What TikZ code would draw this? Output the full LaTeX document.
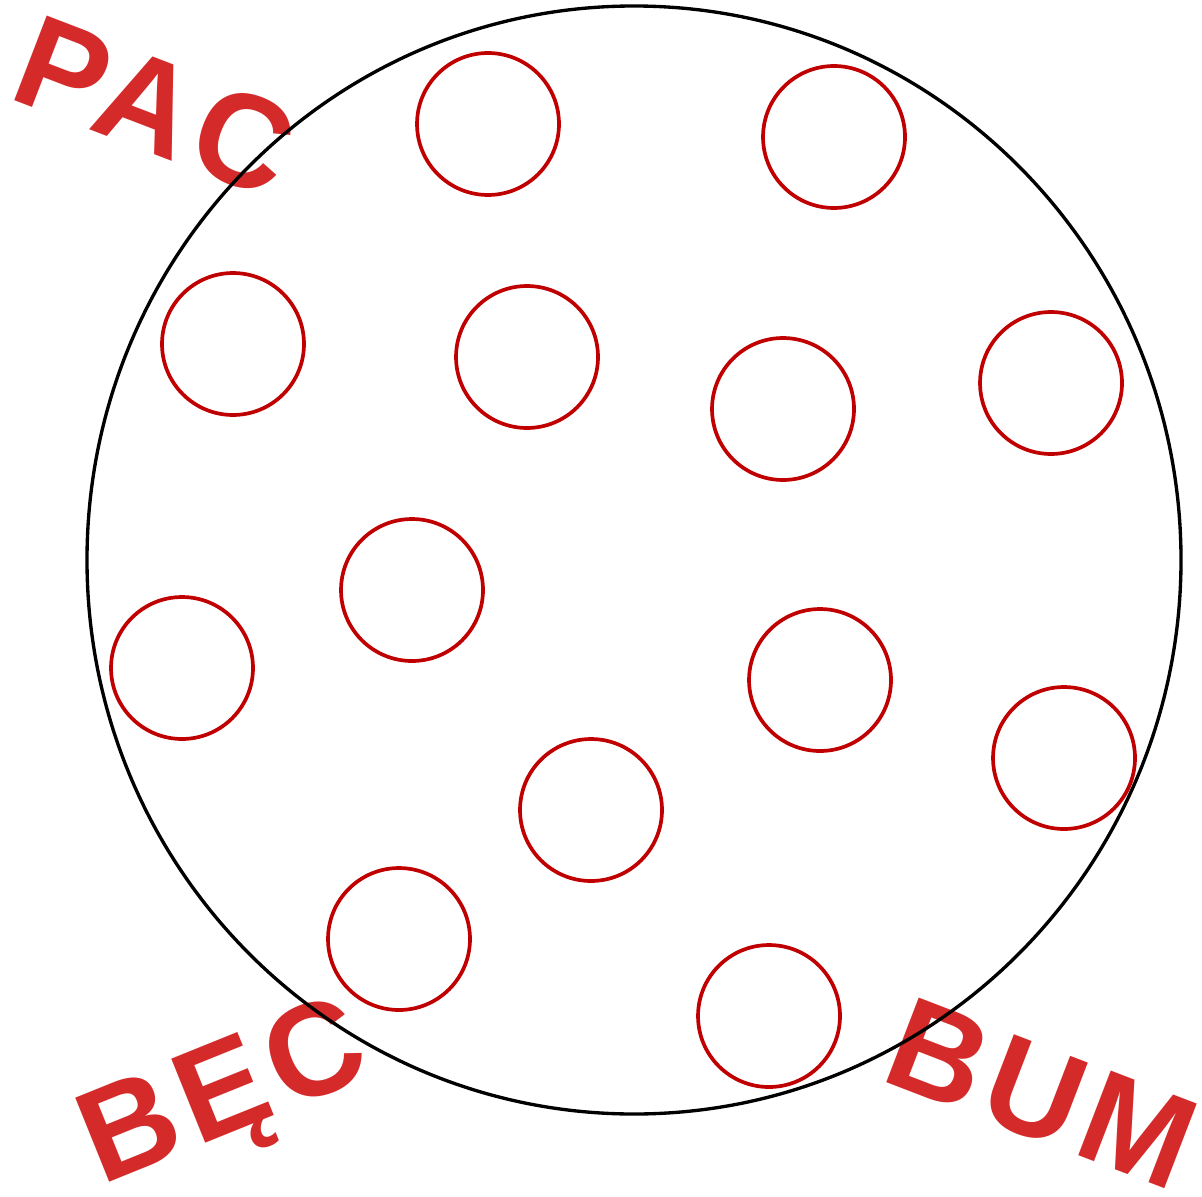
\documentclass[tikz,border=0pt]{standalone}
\usepackage{fontspec}
\setmainfont{Liberation Sans}
\definecolor{ringred}{RGB}{192,0,0}
\definecolor{boomred}{RGB}{212,42,42}
\usetikzlibrary{positioning}

\begin{document}
\begin{tikzpicture}[x=0.02cm,y=-0.02cm,
  spot/.style={circle, draw=ringred, line width=2.1pt, minimum size=2.84cm, inner sep=0pt},
  boom/.style={text=boomred, font=\fontsize{75}{75}\selectfont\bfseries\addfontfeature{LetterSpace=6}, inner sep=0pt}]

\useasboundingbox (0,0) rectangle (1202,1196);

% --- Sound words ---
\node[boom, rotate=-21] (pac) at (155,106) {PAC};
\node[boom, rotate=22] (bec) at (226,1100) {BĘC};
\node[boom, rotate=-21] (bum) at (1042,1094) {BUM};

% --- Outer ring ---
\draw[line width=1.9pt] (634,560) ellipse [x radius=547, y radius=554];

% --- Small rings ---
\foreach \n/\x/\y in {
  1/488/124, 2/834/137,
  3/233/344, 4/527/357, 5/783/409, 6/1051/383,
  7/412/590, 8/182/668, 9/820/680, 10/1064/758,
  11/591/810, 12/399/939, 13/769/1016
}{
  \node[spot] (s\n) at (\x,\y) {};
}

\end{tikzpicture}
\end{document}
